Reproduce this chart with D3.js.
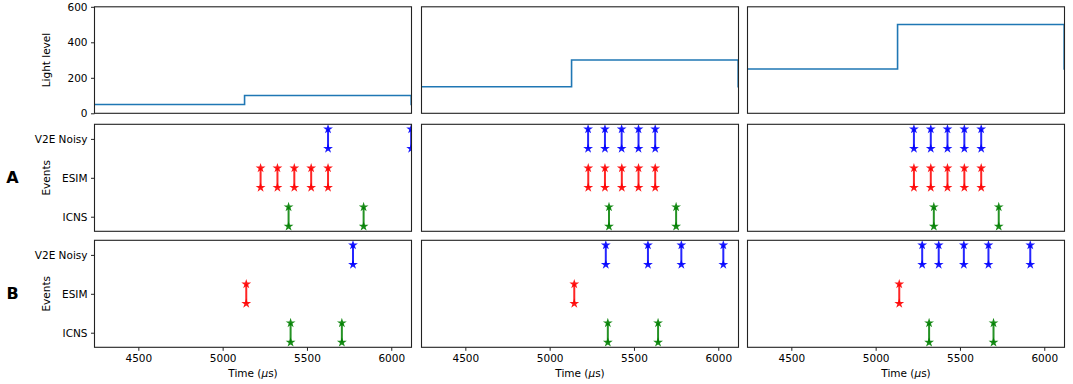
<!DOCTYPE html>
<html>
<head>
<meta charset="utf-8">
<script src="https://cdn.jsdelivr.net/npm/d3@7"></script>
<style>
  html, body { margin: 0; padding: 0; background: #fff; }
  svg { display: block; font-family: "DejaVu Sans", sans-serif; }
</style>
</head>
<body>
<svg id="chart" width="1073" height="384"></svg>
<script>
// ---------------- data ----------------
const timeDomain = [4240, 6120];
const xTicks = [4500, 5000, 5500, 6000];
const lightTicks = [0, 200, 400, 600];
const lightDomain = [0, 600];
const lightLow = [50, 150, 250];
const lightHigh = [100, 300, 500];
const lightStepTime = 5130;
const lightEndTime = 6118;

const eventCategories = ["ICNS", "ESIM", "V2E Noisy"];
const rowLabels = ["A", "B"];

// row A events, one list per column
const v2eA  = [[5625, 6118], [5228, 5328, 5427, 5527, 5626], [5227, 5327, 5426, 5526, 5626]];
const esimA = [[5225, 5325, 5425, 5525, 5625], [5229, 5328, 5428, 5527, 5626], [5227, 5327, 5426, 5526, 5626]];
const icnsA = [[5391, 5836], [5352, 5750], [5345, 5730]];
// row B events
const v2eB  = [[5773], [5333, 5583, 5781, 6030], [5276, 5374, 5523, 5669, 5917]];
const esimB = [[5140], [5146], [5140]];
const icnsB = [[5403, 5707], [5345, 5643], [5317, 5699]];

// ---------------- layout ----------------
const colLeft = [94.5, 421.5, 747.5];
const colWidth = 317;
const rows = [
  { top: 6.8, bottom: 113.3 },
  { top: 124.3, bottom: 231.3 },
  { top: 240.3, bottom: 347.3 }
];
const seriesColors = { "ICNS": "#008000", "ESIM": "#ff0000", "V2E Noisy": "#0000ff" };
const lineColor = "#1f77b4";

const svg = d3.select("#chart");
const defs = svg.append("defs");

function makeX(c) {
  return d3.scaleLinear().domain(timeDomain).range([colLeft[c], colLeft[c] + colWidth]);
}

let clipId = 0;
function addClip(x0, y0, w, h) {
  const id = "clip" + (clipId++);
  defs.append("clipPath").attr("id", id)
    .append("rect").attr("x", x0).attr("y", y0).attr("width", w).attr("height", h);
  return "url(#" + id + ")";
}

function frame(c, r) {
  svg.append("rect")
    .attr("x", colLeft[c]).attr("y", rows[r].top)
    .attr("width", colWidth).attr("height", rows[r].bottom - rows[r].top)
    .attr("fill", "none").attr("stroke", "#222").attr("stroke-width", 1.1);
}

function styleAxis(g) {
  g.selectAll(".domain").remove();
  g.selectAll(".tick line").attr("stroke", "#222").attr("stroke-width", 1);
  g.selectAll(".tick text").attr("fill", "#000")
    .attr("font-family", "DejaVu Sans, sans-serif").attr("font-size", 10.5);
}

// ---------------- light level row ----------------
for (let c = 0; c < 3; c++) {
  const x = makeX(c);
  const y = d3.scaleLinear().domain(lightDomain).range([rows[0].bottom, rows[0].top]);
  const pts = [
    [timeDomain[0] - 200, lightLow[c]],
    [lightStepTime, lightHigh[c]],
    [lightEndTime, lightLow[c]],
    [timeDomain[1] + 200, lightLow[c]]
  ];
  const line = d3.line().x(d => x(d[0])).y(d => y(d[1])).curve(d3.curveStepAfter);
  svg.append("path")
    .attr("clip-path", addClip(colLeft[c], rows[0].top, colWidth, rows[0].bottom - rows[0].top))
    .attr("d", line(pts))
    .attr("fill", "none").attr("stroke", lineColor).attr("stroke-width", 1.6);
  frame(c, 0);
  if (c === 0) {
    const g = svg.append("g").attr("transform", `translate(${colLeft[c]},0)`)
      .call(d3.axisLeft(y).tickValues(lightTicks).tickSize(3.5).tickPadding(3.5));
    styleAxis(g);
  }
}

// ---------------- event rows ----------------
const eventRows = [
  { r: 1, sets: { "V2E Noisy": v2eA, "ESIM": esimA, "ICNS": icnsA } },
  { r: 2, sets: { "V2E Noisy": v2eB, "ESIM": esimB, "ICNS": icnsB } }
];
const star = d3.symbol().type(d3.symbolStar).size(30);

eventRows.forEach((er, ri) => {
  const r = er.r;
  const y = d3.scaleLinear().domain([-0.375, 2.375]).range([rows[r].bottom, rows[r].top]);
  for (let c = 0; c < 3; c++) {
    const x = makeX(c);
    const g = svg.append("g")
      .attr("clip-path", addClip(colLeft[c], rows[r].top, colWidth, rows[r].bottom - rows[r].top));
    eventCategories.forEach((cat, ci) => {
      const times = er.sets[cat][c];
      const col = seriesColors[cat];
      times.forEach(t => {
        g.append("line")
          .attr("x1", x(t)).attr("x2", x(t))
          .attr("y1", y(ci + 0.25)).attr("y2", y(ci - 0.25))
          .attr("stroke", col).attr("stroke-width", 2).attr("opacity", 0.85);
        [ci + 0.25, ci - 0.25].forEach(v => {
          g.append("path").attr("d", star)
            .attr("transform", `translate(${x(t)},${y(v)})`)
            .attr("fill", col).attr("opacity", 0.9);
        });
      });
    });
    frame(c, r);
    if (c === 0) {
      const ga = svg.append("g").attr("transform", `translate(${colLeft[c]},0)`)
        .call(d3.axisLeft(y).tickValues([0, 1, 2]).tickFormat(i => eventCategories[i])
          .tickSize(3.5).tickPadding(3.5));
      styleAxis(ga);
    }
    if (r === 2) {
      const gx = svg.append("g").attr("transform", `translate(0,${rows[r].bottom})`)
        .call(d3.axisBottom(x).tickValues(xTicks).tickFormat(d3.format("d"))
          .tickSize(3.5).tickPadding(3.5));
      styleAxis(gx);
      const lbl = svg.append("text")
        .attr("x", colLeft[c] + colWidth / 2).attr("y", 377)
        .attr("text-anchor", "middle").attr("font-size", 10.5).attr("fill", "#000");
      lbl.append("tspan").text("Time (");
      lbl.append("tspan").attr("font-style", "italic").text("\u03bc");
      lbl.append("tspan").text("s)");
    }
  }
  // y label
  const cy = (rows[r].top + rows[r].bottom) / 2;
  svg.append("text")
    .attr("transform", `translate(50,${cy}) rotate(-90)`)
    .attr("text-anchor", "middle").attr("font-size", 10.5).attr("fill", "#000")
    .text("Events");
  // row letter
  svg.append("text")
    .attr("x", 12.5).attr("y", cy + 5.5)
    .attr("text-anchor", "middle").attr("font-size", 16).attr("font-weight", "bold")
    .attr("fill", "#000").text(rowLabels[ri]);
});

// light level y label
svg.append("text")
  .attr("transform", `translate(50,${(rows[0].top + rows[0].bottom) / 2}) rotate(-90)`)
  .attr("text-anchor", "middle").attr("font-size", 10.5).attr("fill", "#000")
  .text("Light level");
</script>
</body>
</html>
